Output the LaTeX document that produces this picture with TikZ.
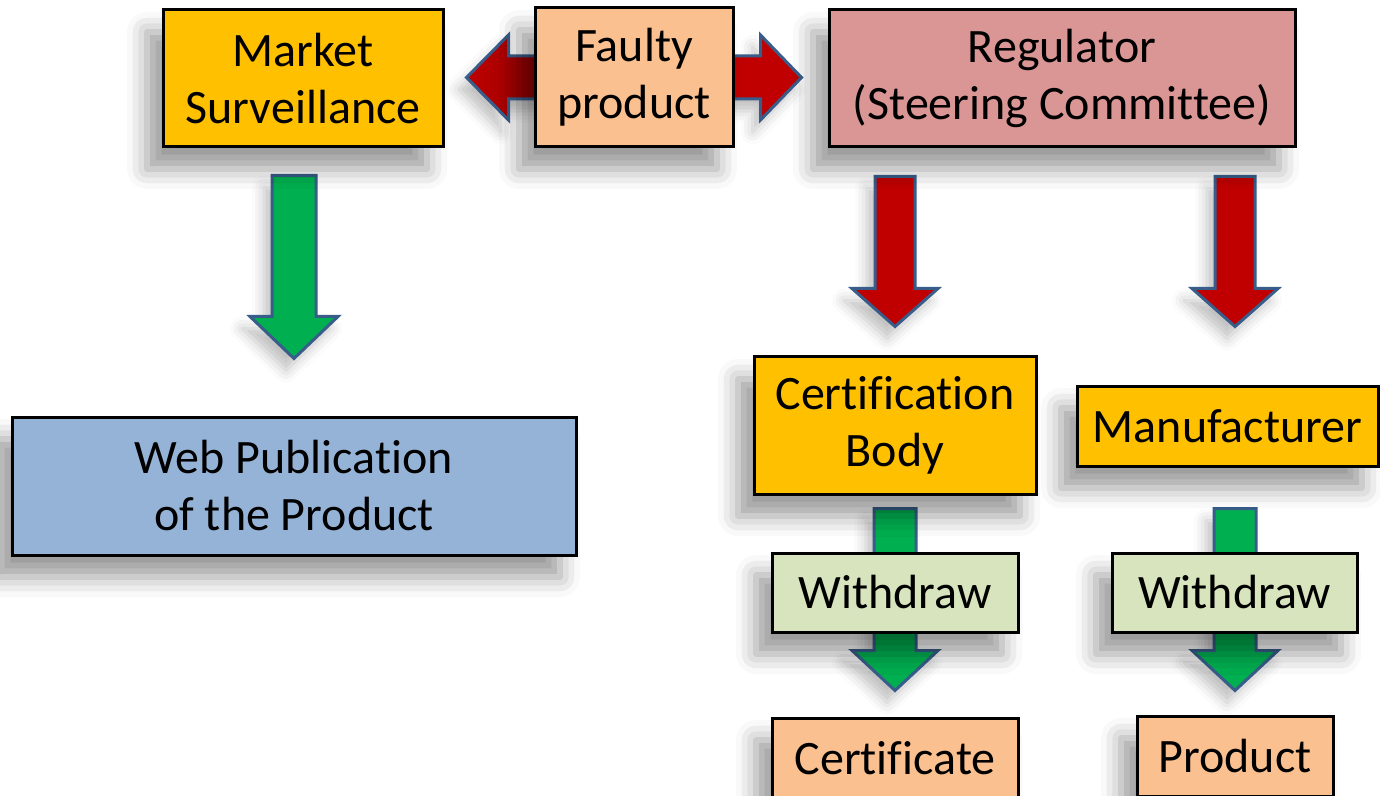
\documentclass[tikz,border=0pt]{standalone}
\usepackage{fontspec}
\setmainfont{Carlito}[Ligatures=NoCommon]
\usetikzlibrary{calc,shadows.blur}
\pgfdeclarelayer{background}
\pgfsetlayers{background,main}
\definecolor{gold}{HTML}{FFC000}
\definecolor{peach}{HTML}{FAC090}
\definecolor{rosy}{HTML}{D99694}
\definecolor{webblue}{HTML}{95B3D7}
\definecolor{palegreen}{HTML}{D7E4BD}
\definecolor{arrred}{HTML}{C00000}
\definecolor{arrdark}{HTML}{8B0000}
\definecolor{arrgreen}{HTML}{00B050}
\definecolor{arrblue}{HTML}{385D8A}
\tikzset{
  box/.style={draw=black,line width=1.5pt,inner sep=0pt,align=center,
    font=\fontsize{24}{28.5}\selectfont,
    blur shadow={shadow xshift=-8pt,shadow yshift=-11pt,shadow blur radius=10pt,shadow opacity=40}},
  blk/.style={draw=arrblue,line width=1.5pt,line join=miter,
    blur shadow={shadow xshift=-4pt,shadow yshift=-6pt,shadow blur radius=6pt,shadow opacity=25}},
}
% #1 fill, #2 top coordinate, #3 tip coordinate, #4 half shaft, #5 half head, #6 head length
\newcommand\dnarrow[6]{%
  \path[blk,fill=#1] let \p1=#2, \p2=#3 in
    (\x2-#4,\y1) -- (\x2+#4,\y1) -- (\x2+#4,\y2+#6) -- (\x2+#5,\y2+#6) --
    (\x2,\y2) -- (\x2-#5,\y2+#6) -- (\x2-#4,\y2+#6) -- cycle;}
\begin{document}
\begin{tikzpicture}[x=0.5pt,y=-0.5pt]
\useasboundingbox (0,0) rectangle (1380,796);

\node[box,fill=gold,minimum width=140pt,minimum height=68.5pt] (ms) at (303,78.5) {Market\\Surveillance};
\node[box,fill=peach,minimum width=99pt,minimum height=69.5pt] (fp) at (634,77.5) {Faulty\\product};
\node[box,fill=rosy,minimum width=233pt,minimum height=68.5pt] (reg) at (1062,78.5) {Regulator\\(Steering Committee)};
\node[box,fill=webblue,minimum width=282pt,minimum height=69pt] (web) at (294,486) {Web Publication\\of the Product};
\node[box,fill=gold,minimum width=141pt,minimum height=68.5pt] (cb) at (895,425.5) {Certification\\Body};
\node[box,fill=gold,minimum width=150.5pt,minimum height=40pt] (mf) at (1227.5,426) {Manufacturer};
\node[box,fill=palegreen,minimum width=123pt,minimum height=39.5pt] (wd1) at (895,592.5) {Withdraw};
\node[box,fill=palegreen,minimum width=122.5pt,minimum height=39.5pt] (wd2) at (1234.5,592.5) {Withdraw};
\node[box,fill=peach,minimum width=123pt,minimum height=40pt] (cert) at (895,758) {Certificate};
\node[box,fill=peach,minimum width=98pt,minimum height=40pt] (prod) at (1235,756) {Product};

\begin{pgfonlayer}{background}
% horizontal red arrows
\path[blk,left color=arrred,right color=arrdark] let \p1=($(fp.west)+(20,0)$), \p2=($(ms.east)+(22,0)$) in
  (\x1,\y1+10.75pt) -- (\x2+21pt,\y1+10.75pt) -- (\x2+21pt,\y1+21.25pt) -- (\x2,\y1) --
  (\x2+21pt,\y1-21.25pt) -- (\x2+21pt,\y1-10.75pt) -- (\x1,\y1-10.75pt) -- cycle;
\path[blk,fill=arrred] let \p1=($(fp.east)+(-20,0)$), \p2=($(reg.west)+(-26,0)$) in
  (\x1,\y1+10.75pt) -- (\x2-20.5pt,\y1+10.75pt) -- (\x2-20.5pt,\y1+21.25pt) -- (\x2,\y1) --
  (\x2-20.5pt,\y1-21.25pt) -- (\x2-20.5pt,\y1-10.75pt) -- (\x1,\y1-10.75pt) -- cycle;
% down arrows
\dnarrow{arrgreen}{($(ms.south)+(0,27)$)}{($(web.north)+(0,-57)$)}{11pt}{22pt}{21pt}
\dnarrow{arrred}{($(reg.south)+(0,28)$)}{($(cb.north)+(0,-29)$)}{10pt}{21.5pt}{19pt}
\dnarrow{arrred}{($(reg.south)+(0,28)$)}{($(mf.north)+(7.5,-58)$)}{10pt}{21.5pt}{19pt}
\dnarrow{arrgreen}{($(cb.south)+(0,13)$)}{($(cert.north)+(0,-26)$)}{10.5pt}{21.5pt}{20pt}
\dnarrow{arrgreen}{($(mf.south)+(0,41)$)}{($(prod.north)+(0,-24)$)}{10.5pt}{21.5pt}{20pt}
\end{pgfonlayer}
\end{tikzpicture}
\end{document}
